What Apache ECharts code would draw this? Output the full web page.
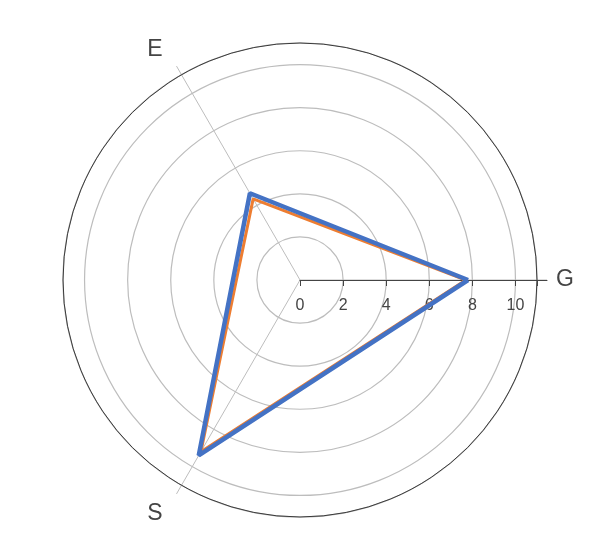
<!DOCTYPE html>
<html>
<head>
<meta charset="utf-8">
<script src="https://cdn.jsdelivr.net/npm/echarts@6/dist/echarts.min.js"></script>
<style>
  html, body { margin: 0; padding: 0; background: #fff; }
  #chart { width: 590px; height: 542px; }
</style>
</head>
<body>
<div id="chart"></div>
<script>
// indicators, counterclockwise from the right
const indicators = ['G', 'E', 'S'];
const seriesA = [7.7, 4.35, 9.2];   // orange
const seriesB = [7.8, 4.65, 9.4];   // blue
const radiusMax = 11;

const step = 360 / indicators.length;
const R = 237;        // outer circle radius in px
const spokeR = 247;   // spokes run a little past the outer circle

// [radius, angle] pairs, first point repeated to close the loop
function toPolar(vals) {
  const pts = vals.map((v, i) => [v, i * step]);
  pts.push([vals[0], 0]);
  return pts;
}

const chart = echarts.init(document.getElementById('chart'));

chart.setOption({
  animation: false,
  textStyle: { fontFamily: 'Arial, "Liberation Sans", sans-serif' },
  polar: [
    { center: [300, 280], radius: R },
    { center: [300, 280], radius: spokeR }
  ],
  angleAxis: [
    {
      polarIndex: 0,
      type: 'value',
      min: 0,
      max: 360,
      interval: step,
      startAngle: 0,
      clockwise: false,
      axisLine: { lineStyle: { color: '#3a3a3a', width: 1 } },
      axisTick: { show: false },
      axisLabel: {
        fontSize: 23,
        color: '#444',
        margin: 16,
        showMaxLabel: false,
        formatter: v => {
          const i = Math.round(v / step);
          if (i >= indicators.length) return '';
          return '{l' + i + '|' + indicators[i] + '}';
        },
        rich: {
          l0: { fontSize: 23, color: '#444', padding: [0, 0, 0, 3] },
          l1: { fontSize: 23, color: '#444', padding: [0, 11, 0, 0] },
          l2: { fontSize: 23, color: '#444', padding: [3, 11, 0, 0] }
        }
      },
      splitLine: { show: false }
    },
    {
      polarIndex: 1,
      type: 'value',
      min: 0,
      max: 360,
      interval: step,
      startAngle: 0,
      clockwise: false,
      axisLine: { show: false },
      axisTick: { show: false },
      axisLabel: { show: false },
      splitLine: { show: true, lineStyle: { color: '#bdbdbd', width: 1 } }
    }
  ],
  radiusAxis: [
    {
      polarIndex: 0,
      min: 0,
      max: radiusMax,
      interval: 2,
      axisLine: { show: false },
      axisTick: { show: true, length: -6, lineStyle: { color: '#444' } },
      axisLabel: {
        fontSize: 16,
        color: '#444',
        margin: -18,
        verticalAlign: 'top',
        formatter: v => (v > 10 ? '' : v)
      },
      splitLine: { show: true, lineStyle: { color: '#bdbdbd', width: 1.2 } }
    },
    {
      polarIndex: 1,
      min: 0,
      max: 1,
      axisLine: { lineStyle: { color: '#444', width: 1 } },
      axisTick: { show: false },
      axisLabel: { show: false },
      splitLine: { show: false }
    }
  ],
  series: [
    {
      type: 'line',
      coordinateSystem: 'polar',
      polarIndex: 0,
      data: toPolar(seriesA),
      showSymbol: false,
      lineStyle: { color: '#ED7D31', width: 3 },
      z: 3
    },
    {
      type: 'line',
      coordinateSystem: 'polar',
      polarIndex: 0,
      data: toPolar(seriesB),
      showSymbol: false,
      lineStyle: { color: '#4472C4', width: 4.5 },
      z: 4
    }
  ]
});
</script>
</body>
</html>
